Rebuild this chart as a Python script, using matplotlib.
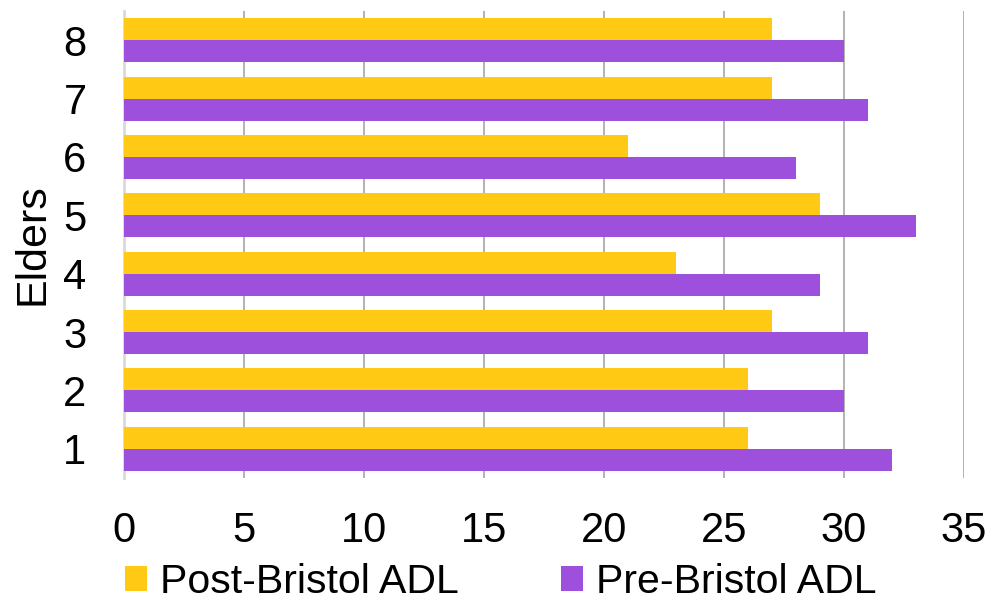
import matplotlib
matplotlib.use("Agg")
import matplotlib.pyplot as plt
import numpy as np

plt.rcParams['font.family'] = ['Liberation Sans', 'DejaVu Sans']

elders = [1, 2, 3, 4, 5, 6, 7, 8]
post_bristol = [26, 26, 27, 23, 29, 21, 27, 27]
pre_bristol = [32, 30, 31, 29, 33, 28, 31, 30]
x_ticks = [0, 5, 10, 15, 20, 25, 30, 35]

c_post = '#FFC914'
c_pre = '#9C50DC'

fig = plt.figure(figsize=(9.93, 6.04), dpi=100)
ax = fig.add_axes([124/993, 1-478/604, 840/993, 467/604])

y = np.array(elders, dtype=float)
h = 0.377
ax.barh(y + h/2, post_bristol, height=h, color=c_post, label='Post-Bristol ADL', zorder=3)
ax.barh(y - h/2, pre_bristol, height=h, color=c_pre, label='Pre-Bristol ADL', zorder=3)

ax.set_xlim(0, 35)
ax.set_ylim(0.5, 8.5)
ax.set_xticks(x_ticks)
ax.set_xticklabels([str(t) for t in x_ticks], fontsize=30)
ax.set_yticks(elders)
ax.set_yticklabels([str(e) for e in elders], fontsize=30)
ax.tick_params(axis='x', length=0, pad=24)
ax.tick_params(axis='y', length=0, pad=27)
ax.grid(axis='x', color='#A6A6A6', linewidth=1.2, zorder=0)
for s in ['top', 'right', 'bottom']:
    ax.spines[s].set_visible(False)
ax.spines['left'].set_color('#D9D9D9')
ax.spines['left'].set_linewidth(2)
ax.set_ylabel('Elders', fontsize=31, labelpad=8)

handles, labels = ax.get_legend_handles_labels()
fs = 29.5
em = fs / 72 * 100
fig.legend(handles, labels, loc='center left', bbox_to_anchor=(125/993, 1-582/604), ncol=2,
           frameon=False, fontsize=fs, handlelength=22/em, handleheight=22/em,
           handletextpad=13/em, columnspacing=102/em, borderpad=0, borderaxespad=0)

fig.savefig('out.png', dpi=100)
